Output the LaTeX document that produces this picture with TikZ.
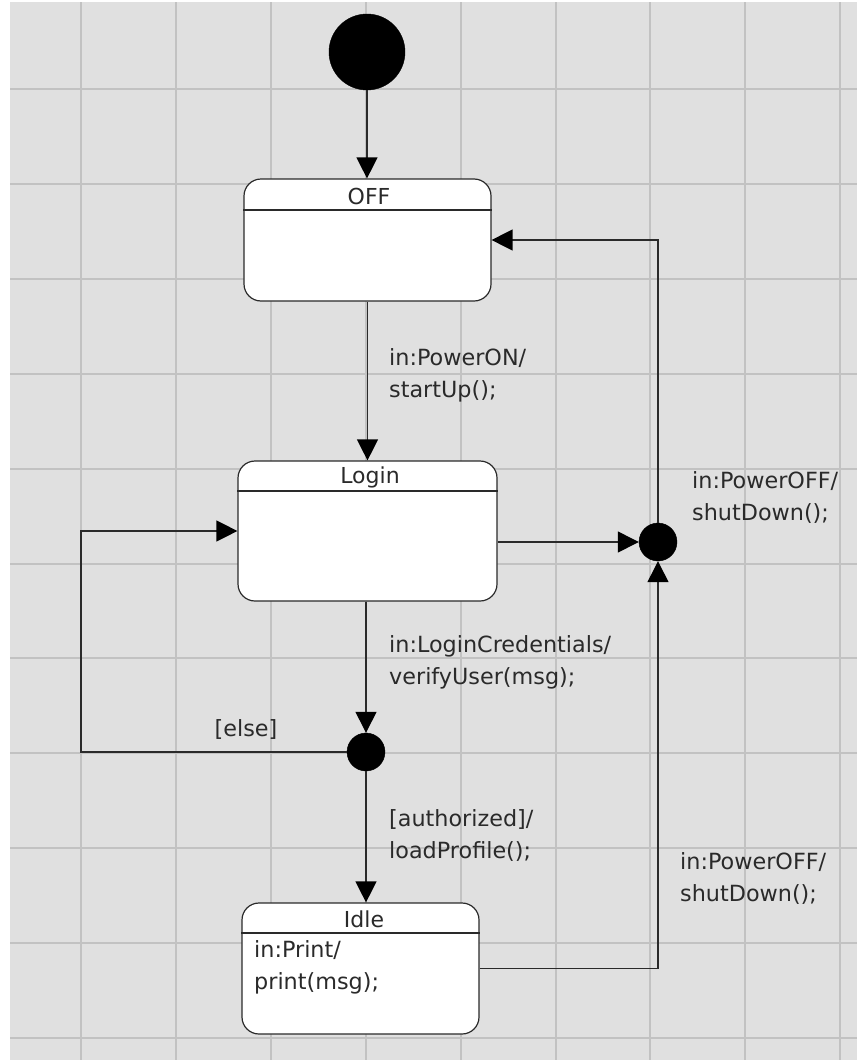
\documentclass[tikz,border=0pt]{standalone}
\usepackage{fontspec}
\setmainfont{DejaVu Sans}
\usetikzlibrary{arrows.meta}
\definecolor{bg}{HTML}{E0E0E0}
\definecolor{gridc}{HTML}{C2C2C2}
\definecolor{ink}{HTML}{2A2A2A}
\tikzset{
  state/.style={draw=ink, line width=1.2pt, fill=white, rounded corners=17pt, inner sep=0pt},
  dot/.style={circle, fill=black, draw=black, inner sep=0pt},
  arr/.style={draw=ink, line width=1.3pt, -{Triangle[length=21pt,width=21pt,color=black]}},
  lbl/.style={text=ink, font=\fontsize{22.3}{32}\selectfont, align=left, inner sep=0pt},
  ttl/.style={text=ink, font=\fontsize{22}{24}\selectfont, inner sep=0pt},
}
\begin{document}
\begin{tikzpicture}[x=1pt,y=-1pt]
\useasboundingbox (0,0) rectangle (857,1060);
\fill[white] (0,0) rectangle (857,1060);
\fill[bg] (10,2) rectangle (857,1060);
\foreach \x in {81,176,271,366,461,556,650,745,840} \draw[gridc, line width=1.2pt] (\x,2) -- (\x,1060);
\foreach \y in {89,184,279,374,469,564,658,753,848,943,1038} \draw[gridc, line width=1.2pt] (10,\y) -- (857,\y);

% nodes
\node[dot, minimum size=76pt] (init) at (367,52) {};
\node[state, minimum width=247pt, minimum height=122pt] (off) at (367.5,240) {};
\node[state, minimum width=259pt, minimum height=140pt] (login) at (367.5,531) {};
\node[state, minimum width=237pt, minimum height=131pt] (idle) at (360.5,968.5) {};
\node[dot, minimum size=38pt] (dec) at (366,752) {};
\node[dot, minimum size=38pt] (junc) at (658,542) {};

% header lines
\draw[ink, line width=1.2pt] (off.west |- 0,210) -- (off.east |- 0,210);
\draw[ink, line width=1.2pt] (login.west |- 0,491) -- (login.east |- 0,491);
\draw[ink, line width=1.2pt] (idle.west |- 0,933) -- (idle.east |- 0,933);

% titles
\node[ttl] (offT) at (369,196) {OFF};
\node[ttl] (loginT) at (370,477) {Login};
\node[ttl] (idleT) at (364,919) {Idle};
\node[lbl, anchor=west] (idleB) at (254,967) {in:Print/\\print(msg);};

% connectors
\coordinate (eA) at (81,531);
\draw[arr] (init) -- (init |- off.north);
\draw[arr] (off.south) -- (login.north);
\draw[arr] (login.south -| dec) -- (dec.north);
\draw[arr] (dec.south) -- (dec |- idle.north);
\draw[arr] (dec.west) -| (eA) -- (login.west);
\draw[arr] (login.east |- junc) -- (junc.west);
\draw[arr] (idle.east) -| (junc.south);
\draw[arr] (junc.north) |- (off.east);

% labels
\node[lbl, anchor=west] (l1) at (389,375) {in:PowerON/\\startUp();};
\node[lbl, anchor=west] (l2) at (389,662) {in:LoginCredentials/\\verifyUser(msg);};
\node[lbl, anchor=west] (l3) at (389,835) {[authorized]/\\loadProfile();};
\node[lbl, anchor=west] (l4) at (692,497) {in:PowerOFF/\\shutDown();};
\node[lbl, anchor=west] (l5) at (680,878) {in:PowerOFF/\\shutDown();};
\node[lbl] (l6) at (246,729) {[else]};
\end{tikzpicture}
\end{document}
